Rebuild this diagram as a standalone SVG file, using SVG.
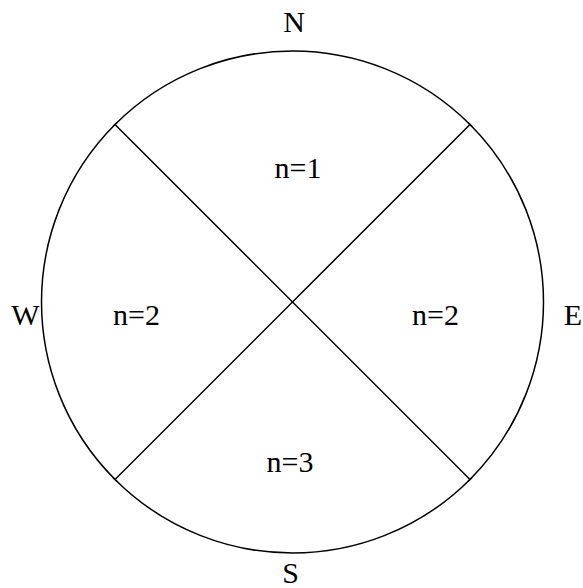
<svg xmlns="http://www.w3.org/2000/svg" width="583" height="588" viewBox="0 0 583 588">
<style>
.ln{stroke:#000;stroke-width:1.5;fill:none}
.tk{stroke:#000;stroke-width:1.5}
text{font-family:"Liberation Serif","Times New Roman",serif;font-size:30px;fill:#000;text-anchor:middle}
</style>
<rect width="583" height="588" fill="#fff"/>
<g id="circle"><circle class="ln" cx="292.5" cy="302" r="251"/></g>
<g id="connectors">
<line class="ln" x1="115" y1="124.5" x2="470" y2="479.5"/>
<line class="ln" x1="470" y1="124.5" x2="115" y2="479.5"/>
<line class="tk" x1="113" y1="126.5" x2="117" y2="122.5"/>
<line class="tk" x1="468" y1="122.5" x2="472" y2="126.5"/>
<line class="tk" x1="113" y1="477.5" x2="117" y2="481.5"/>
<line class="tk" x1="468" y1="481.5" x2="472" y2="477.5"/>
</g>
<g id="N"><text x="294" y="32">N</text></g>
<g id="S"><text x="290.5" y="583">S</text></g>
<g id="W"><text x="25.5" y="325">W</text></g>
<g id="E"><text x="573" y="325">E</text></g>
<g id="top"><text x="298" y="178">n=1</text></g>
<g id="left"><text x="136.5" y="325">n=2</text></g>
<g id="right"><text x="435.5" y="325">n=2</text></g>
<g id="bottom"><text x="290" y="472">n=3</text></g>
</svg>
